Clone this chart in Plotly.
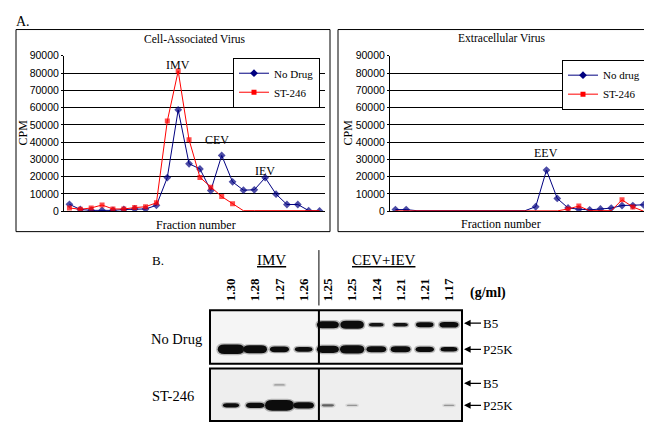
import plotly.graph_objects as go

# ---------------- data ----------------
fractions = list(range(1, 25))

cell_nodrug = [4000, 1000, 500, 500, 500, 1000, 1300, 1300, 3400, 19500, 58700, 27500,
               24500, 12000, 32300, 17000, 12200, 12400, 19400, 9900, 3900, 3900, 350, 200]
cell_st246 = [1900, 1100, 1900, 3600, 1300, 1300, 2100, 2600, 4900, 52200, 81200, 41400,
              19600, 13900, 8500, 4400, 300, 300, 300, 300, 300, 300, 300, 300]

ext_nodrug = [950, 950, 300, 300, 300, 300, 400, 400, 300, 300, 300, 300, 300,
              2600, 23800, 7400, 1900, 1200, 800, 1300, 1800, 3300, 3300, 3700]
ext_st246 = [200, 200, 200, 200, 200, 200, 200, 200, 200, 200, 200, 200, 200, 200, 200, 200,
             1300, 3000, 300, 300, 300, 6600, 2500, 0]

# points that carry a marker in the original (style only)
cell_nodrug_marked = [1] * 24
cell_st246_marked = [1] * 16 + [0] * 8
ext_nodrug_marked = [1, 1] + [0] * 11 + [1] * 11
ext_st246_marked = [0] * 16 + [1, 1, 0, 0, 0, 1, 1, 0]

cell_peaks = [("IMV", 11, 84500), ("CEV", 14.6, 41500), ("IEV", 19, 23000)]
ext_peaks = [("EEV", 15, 33500)]

# Western blot (panel B): lane densities and relative band intensities
densities = ["1.30", "1.28", "1.27", "1.26", "1.25", "1.25", "1.24", "1.21", "1.21", "1.17"]
nodrug_b5 = [0, 0, 0, 0, 0.8, 0.9, 0.3, 0.3, 0.5, 0.6]
nodrug_p25k = [1.1, 0.9, 0.6, 0.5, 0.8, 0.95, 0.65, 0.65, 0.55, 0.45]
st246_b5 = [0, 0, 0.05, 0, 0, 0, 0, 0, 0, 0]
st246_p25k = [0.4, 0.55, 1.25, 0.7, 0.15, 0.05, 0, 0, 0, 0.05]

# ---------------- layout helpers ----------------
W, H = 652, 422
def px(x):
    return x / W
def py(y):
    return 1 - y / H

SERIF = "Liberation Serif"
SANS = "Liberation Sans"
NAVY = "#000080"
RED = "#ff0000"

fig = go.Figure()

def add_series(x, y, name, color, symbol, size, marked, xa, ya, legend):
    fig.add_trace(go.Scatter(
        x=x, y=y, name=name, mode="lines+markers", showlegend=False,
        line=dict(color=color, width=1),
        marker=dict(symbol=symbol, color=color, size=[size if m else 0 for m in marked],
                    line=dict(width=0)),
        xaxis=xa, yaxis=ya, hoverinfo="skip"))
    # legend entry
    fig.add_trace(go.Scatter(
        x=[None], y=[None], name=name, mode="lines+markers", showlegend=True,
        line=dict(color=color, width=1),
        marker=dict(symbol=symbol, color=color, size=size, line=dict(width=0)),
        xaxis=xa, yaxis=ya, legend=legend, hoverinfo="skip"))

add_series(fractions, cell_nodrug, "No Drug", NAVY, "diamond", 6, cell_nodrug_marked, "x", "y", "legend")
add_series(fractions, cell_st246, "ST-246", RED, "square", 5, cell_st246_marked, "x", "y", "legend")
add_series(fractions, ext_nodrug, "No drug", NAVY, "diamond", 6, ext_nodrug_marked, "x2", "y2", "legend2")
add_series(fractions, ext_st246, "ST-246", RED, "square", 5, ext_st246_marked, "x2", "y2", "legend2")

lanes = list(range(1, len(densities) + 1))
# invisible anchors so the blot subplots exist
fig.add_trace(go.Scatter(x=lanes, y=[None] * len(lanes), xaxis="x3", yaxis="y3",
                         showlegend=False, hoverinfo="skip"))
fig.add_trace(go.Scatter(x=lanes, y=[None] * len(lanes), xaxis="x4", yaxis="y4",
                         showlegend=False, hoverinfo="skip"))

yaxis_common = dict(range=[0, 90000], dtick=10000, tickformat="d", showgrid=True, gridcolor="black",
                    gridwidth=1, showline=True, linecolor="black", linewidth=1, ticks="outside",
                    ticklen=2, tickcolor="black", tickfont=dict(family=SANS, size=10.5, color="black"),
                    zeroline=False, fixedrange=True)
xaxis_common = dict(range=[0.5, 24.5], showticklabels=False, showgrid=False, showline=True,
                    linecolor="black", linewidth=1, zeroline=False, ticks="")

# blot geometry
blot_x0, blot_x1 = 202, 454
lane1_px, lane_step_px = 223, 24.22
x_lo = 1 - (lane1_px - blot_x0) / lane_step_px
x_hi = 1 + (blot_x1 - lane1_px) / lane_step_px
sep = 4.63
p1_top, p1_bot = 305, 360
p2_top, p2_bot = 365, 419

fig.update_layout(
    width=W, height=H, autosize=False,
    margin=dict(l=0, r=0, t=0, b=0),
    paper_bgcolor="white", plot_bgcolor="white",
    xaxis=dict(domain=[px(56), px(317)], anchor="y", **xaxis_common),
    yaxis=dict(domain=[py(203), py(43)], anchor="x", **yaxis_common),
    xaxis2=dict(domain=[px(382), px(641)], anchor="y2", **xaxis_common),
    yaxis2=dict(domain=[py(203), py(43)], anchor="x2", **yaxis_common),
    xaxis3=dict(domain=[px(blot_x0), px(blot_x1)], anchor="y3", range=[x_lo, x_hi], side="top",
                tickvals=lanes, ticktext=densities, tickangle=-90, showgrid=False, zeroline=False,
                showline=False, ticks="", ticklabelstandoff=8,
                tickfont=dict(family=SERIF, size=13, color="black", weight="bold")),
    yaxis3=dict(domain=[py(p1_bot), py(p1_top)], anchor="x3", range=[0, 1], visible=False),
    xaxis4=dict(domain=[px(blot_x0), px(blot_x1)], anchor="y4", range=[x_lo, x_hi], visible=False),
    yaxis4=dict(domain=[py(p2_bot), py(p2_top)], anchor="x4", range=[0, 1], visible=False),
    legend=dict(x=px(312), y=py(45), xanchor="right", yanchor="top", bgcolor="white",
                bordercolor="black", borderwidth=1, font=dict(family=SERIF, size=11, color="black"),
                itemwidth=30, tracegroupgap=0),
    legend2=dict(x=px(638), y=py(47), xanchor="right", yanchor="top", bgcolor="white",
                 bordercolor="black", borderwidth=1, font=dict(family=SERIF, size=11, color="black"),
                 itemwidth=30, tracegroupgap=0),
    showlegend=True,
)

shapes = []
annotations = []

# outer boxes of the two charts
for (bx0, bx1) in [(8, 322), (330, 647)]:
    shapes.append(dict(type="rect", xref="paper", yref="paper", x0=px(bx0), x1=px(bx1),
                       y0=py(224), y1=py(16), line=dict(color="black", width=1)))

def txt(text, x, y, size, xref="paper", yref="paper", xanchor="center", **kw):
    d = dict(text=text, x=x, y=y, xref=xref, yref=yref, showarrow=False,
             xanchor=xanchor, yanchor="middle",
             font=dict(family=SERIF, size=size, color="black"))
    d.update(kw)
    annotations.append(d)

txt("A.", px(6), py(8), 14, xanchor="left")
txt("Cell-Associated Virus", px(187), py(26), 11.5)
txt("Extracellular Virus", px(494), py(25), 11.5)
txt("Fraction number", px(188), py(217), 12)
txt("Fraction number", px(493), py(216), 12)
txt("CPM", px(15), py(122), 12, textangle=-90)
txt("CPM", px(340), py(122), 12, textangle=-90)
for (t, xv, yv) in cell_peaks:
    txt(t, xv, yv, 12, xref="x", yref="y")
for (t, xv, yv) in ext_peaks:
    txt(t, xv, yv, 12, xref="x2", yref="y2")

# ---------------- panel B ----------------
txt("B.", px(142), py(254), 13, xanchor="left")
txt("<u>IMV</u>", px(263), py(253), 15)
txt("<u>CEV+IEV</u>", px(376), py(253), 15)
txt("<b>(g/ml)</b>", px(480), py(287), 14)
txt("No Drug", px(168), py(335), 14.5)
txt("ST-246", px(165), py(393), 14.5)

# separator between IMV and CEV+IEV groups above the blots
shapes.append(dict(type="line", xref="x3", yref="paper", x0=sep, x1=sep,
                   y0=py(300), y1=py(243), line=dict(color="black", width=1)))

def pill(lane, ry, w_px, h_px, xpu, ypu):
    hw = w_px / 2 / xpu
    hh = h_px / 2 / ypu
    rx = min(hw * 0.5, (h_px * 0.9) / xpu)
    x0, x1 = lane - hw, lane + hw
    y0, y1 = ry - hh, ry + hh
    return (f"M {x0+rx},{y0} L {x1-rx},{y0} Q {x1},{y0} {x1},{ry} "
            f"Q {x1},{y1} {x1-rx},{y1} L {x0+rx},{y1} Q {x0},{y1} {x0},{ry} "
            f"Q {x0},{y0} {x0+rx},{y0} Z")

panels = [
    ("x3", "y3", p1_top, p1_bot, "#f5f5f5", {"B5": (nodrug_b5, 0.73), "P25K": (nodrug_p25k, 0.27)}),
    ("x4", "y4", p2_top, p2_bot, "#eeeeee", {"B5": (st246_b5, 0.69), "P25K": (st246_p25k, 0.30)}),
]
xpu = lane_step_px
for xa, ya, top, bot, bg, rows in panels:
    ypu = bot - top
    shapes.append(dict(type="rect", xref=xa + " domain", yref=ya + " domain", x0=0, x1=1, y0=0, y1=1,
                       fillcolor=bg, line=dict(color="black", width=2), layer="below"))
    for name, (vals, ry) in rows.items():
        for lane, I in zip(lanes, vals):
            if I <= 0:
                continue
            w_px = 10 + 15 * I
            h_px = 1 + 8 * I
            alpha = min(1.0, 0.2 + 2.5 * I)
            # soft halo then the core band
            shapes.append(dict(type="path", xref=xa, yref=ya,
                               path=pill(lane, ry, w_px + 3, h_px + 2.5, xpu, ypu),
                               fillcolor=f"rgba(40,40,40,{alpha * 0.3:.2f})", line=dict(width=0)))
            shapes.append(dict(type="path", xref=xa, yref=ya,
                               path=pill(lane, ry, w_px, h_px, xpu, ypu),
                               fillcolor=f"rgba(12,12,12,{alpha:.2f})", line=dict(width=0)))
        # arrow + label on the right
        annotations.append(dict(text=name, x=px(456), y=ry + (0.03 if name == "B5" else 0),
                                xref="paper", yref=ya, showarrow=True, ax=17, ay=0,
                                xanchor="left", arrowhead=2, arrowsize=1.1, arrowwidth=1.2,
                                arrowcolor="black",
                                font=dict(family=SERIF, size=13, color="black")))
    shapes.append(dict(type="line", xref=xa, yref=ya + " domain", x0=sep, x1=sep, y0=0, y1=1,
                       line=dict(color="black", width=2)))

fig.update_layout(shapes=shapes, annotations=annotations)
fig.write_html("out.html")
